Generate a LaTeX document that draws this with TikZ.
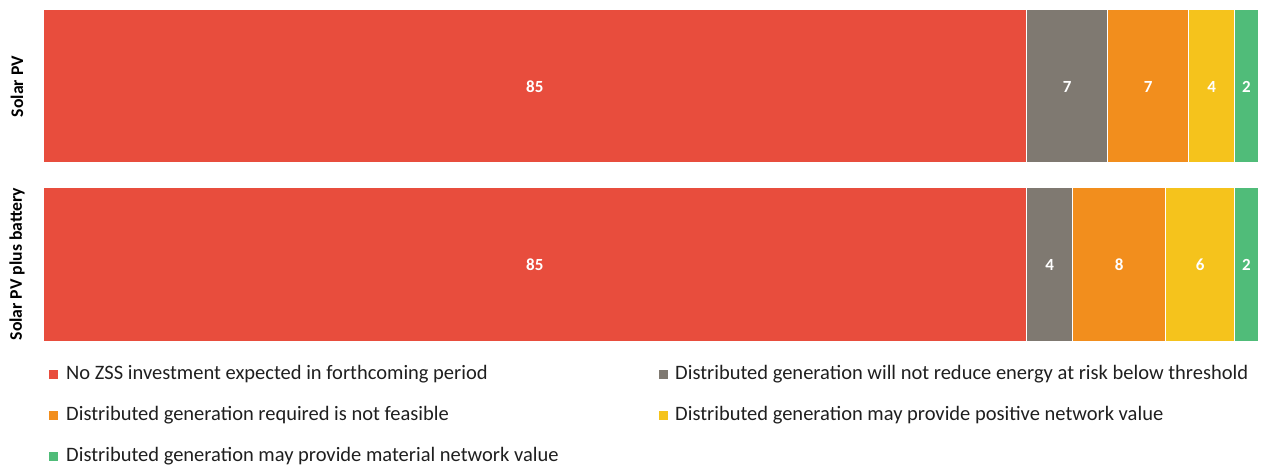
\documentclass[tikz,border=0pt]{standalone}
\usepackage{fontspec}
\setmainfont{Carlito}
\definecolor{cRed}{HTML}{E84D3D}
\definecolor{cGray}{HTML}{7F7971}
\definecolor{cOrange}{HTML}{F28E1D}
\definecolor{cYellow}{HTML}{F5C31C}
\definecolor{cGreen}{HTML}{50BC79}
\begin{document}
\begin{tikzpicture}[x=1pt,y=-1pt,
  seg/.style={draw=white,line width=1pt},
  val/.style={text=white,font=\bfseries\fontsize{17}{19}\selectfont,inner sep=0pt},
  rowlab/.style={rotate=90,font=\bfseries\fontsize{17.7}{19}\selectfont,inner sep=0pt},
  legsq/.style={minimum size=9pt,inner sep=0pt,draw=none},
  legtxt/.style={anchor=west,font=\fontsize{20.5}{22}\selectfont,inner sep=0pt,text=black!88}]
\useasboundingbox (0,0) rectangle (1263,471);
\pgfmathsetmacro{\u}{1215/105}
% Bar 1: Solar PV
\filldraw[seg,fill=cRed]    (43,9) rectangle ({43+85*\u},162.5);
\filldraw[seg,fill=cGray]   ({43+85*\u},9) rectangle ({43+92*\u},162.5);
\filldraw[seg,fill=cOrange] ({43+92*\u},9) rectangle ({43+99*\u},162.5);
\filldraw[seg,fill=cYellow] ({43+99*\u},9) rectangle ({43+103*\u},162.5);
\filldraw[seg,fill=cGreen]  ({43+103*\u},9) rectangle ({43+105*\u},162.5);
\node[val] (a1) at ({43+42.5*\u},87) {85};
\node[val] (a2) at ({43+88.5*\u},87) {7};
\node[val] (a3) at ({43+95.5*\u},87) {7};
\node[val] (a4) at ({43+101*\u},87) {4};
\node[val] (a5) at ({43+104*\u},87) {2};
% Bar 2: Solar PV plus battery
\filldraw[seg,fill=cRed]    (43,187) rectangle ({43+85*\u},341.5);
\filldraw[seg,fill=cGray]   ({43+85*\u},187) rectangle ({43+89*\u},341.5);
\filldraw[seg,fill=cOrange] ({43+89*\u},187) rectangle ({43+97*\u},341.5);
\filldraw[seg,fill=cYellow] ({43+97*\u},187) rectangle ({43+103*\u},341.5);
\filldraw[seg,fill=cGreen]  ({43+103*\u},187) rectangle ({43+105*\u},341.5);
\node[val] (b1) at ({43+42.5*\u},265) {85};
\node[val] (b2) at ({43+87*\u},265) {4};
\node[val] (b3) at ({43+93*\u},265) {8};
\node[val] (b4) at ({43+100*\u},265) {6};
\node[val] (b5) at ({43+104*\u},265) {2};
% Row labels
\node[rowlab] (r1) at (17,86.5) {Solar PV};
\node[rowlab] (r2) at (17,264) {Solar PV plus battery};
% Legend
\node[legsq,fill=cRed]    (s1) at (53.5,374) {};
\node[legtxt] (t1) at (66,374) {No ZSS investment expected in forthcoming period};
\node[legsq,fill=cOrange] (s3) at (53.5,415) {};
\node[legtxt] (t3) at (66,415) {Distributed generation required is not feasible};
\node[legsq,fill=cGreen]  (s5) at (53.5,456) {};
\node[legtxt] (t5) at (66,456) {Distributed generation may provide material network value};
\node[legsq,fill=cGray]   (s2) at (663,374) {};
\node[legtxt] (t2) at (675,374) {Distributed generation will not reduce energy at risk below threshold};
\node[legsq,fill=cYellow] (s4) at (663,415) {};
\node[legtxt] (t4) at (675,415) {Distributed generation may provide positive network value};
\end{tikzpicture}
\end{document}
